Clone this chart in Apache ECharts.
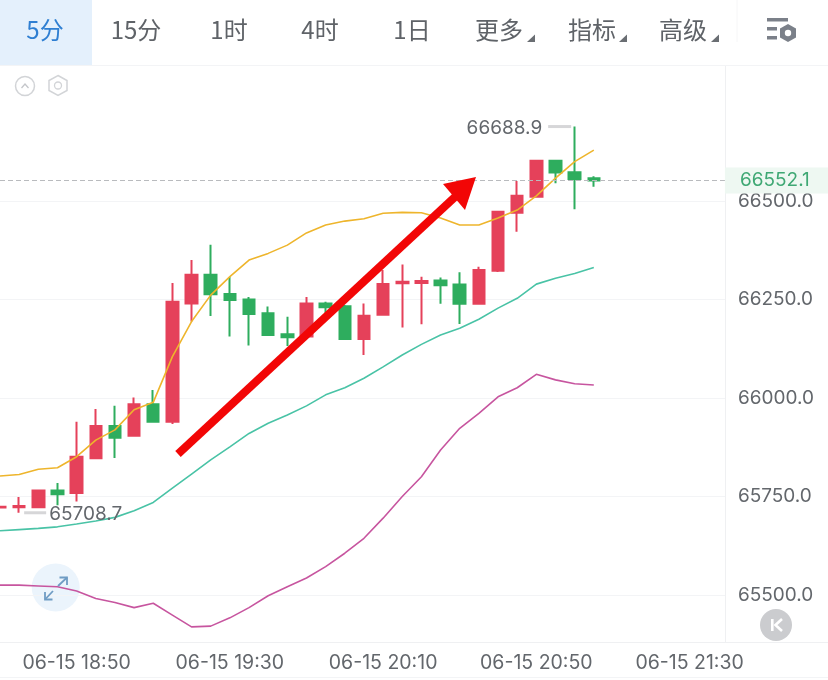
<!DOCTYPE html>
<html>
<head>
<meta charset="utf-8">
<style>
  html, body { margin: 0; padding: 0; background: #fff; }
  #chart { width: 828px; height: 680px; }
</style>
<script src="https://cdn.jsdelivr.net/npm/echarts@6/dist/echarts.min.js"></script>
</head>
<body>
<div id="chart"></div>
<script>
// Five-minute bars, 18:30 onward, with room on the right for upcoming sessions
const categories = [
  '06-15 18:30','06-15 18:35','06-15 18:40','06-15 18:45','06-15 18:50','06-15 18:55','06-15 19:00','06-15 19:05',
  '06-15 19:10','06-15 19:15','06-15 19:20','06-15 19:25','06-15 19:30','06-15 19:35','06-15 19:40','06-15 19:45',
  '06-15 19:50','06-15 19:55','06-15 20:00','06-15 20:05','06-15 20:10','06-15 20:15','06-15 20:20','06-15 20:25',
  '06-15 20:30','06-15 20:35','06-15 20:40','06-15 20:45','06-15 20:50','06-15 20:55','06-15 21:00','06-15 21:05',
  '06-15 21:10','06-15 21:15','06-15 21:20','06-15 21:25','06-15 21:30','06-15 21:35','06-15 21:40'
];

const opens  = [65722,65723,65723,65765,65759,65847,65929,65904,65984,65940,66240,66313,66264,66250,66215,66162,66156,66240,66233,66150,66211,66291,66292,66298,66288,66239,66323,66470,66511,66602,66573,66558];
const closes = [65724,65726,65765,65756,65851,65929,65899,65984,65940,66244,66313,66263,66249,66213,66160,66154,66240,66230,66150,66209,66289,66295,66297,66286,66239,66325,66473,66513,66602,66572,66556,66552.1];
const lows   = [65721,65708.7,65721,65728,65737,65845,65848,65902,65939,65934,66194,66208,66156,66133,66158,66132,66155,66198,66148,66109,66209,66179,66187,66239,66188,66237,66320,66422,66510,66545,66479,66536];
const highs  = [65725,65749,65766,65784,65940,65972,65980,66001,66020,66292,66350,66389,66307,66256,66232,66206,66256,66244,66236,66240,66325,66339,66308,66306,66319,66333,66474,66551,66603,66604,66688.9,66563];

const maYellow = [65802,65806,65819,65823,65851,65893,65919,65970,65989,66105,66194,66261,66308,66350,66367,66388,66419,66439,66449,66455,66469,66471,66470,66457,66439,66439,66457,66477,66513,66558,66600,66629];
const maTeal   = [65663,65666,65669,65673,65680,65688,65697,65714,65735,65771,65807,65843,65876,65910,65936,65957,65980,66008,66026,66050,66079,66109,66136,66160,66177,66200,66228,66253,66289,66304,66316,66331];
const maPurple = [65525,65525,65523,65521,65510,65491,65481,65468,65479,65449,65419,65421,65442,65468,65498,65521,65543,65572,65606,65644,65695,65750,65800,65868,65923,65961,66003,66026,66060,66046,66036,66033];

const priceTicks = [65500, 65750, 66000, 66250, 66500];
const lastPrice = 66552.1;
const highPoint = { category: '06-15 21:00', value: 66688.9 };
const lowPoint = { category: '06-15 18:35', value: 65708.7 };

const tabs = ['5分', '15分', '1时', '4时', '1日', '更多', '指标', '高级'];
const tabCenters = [45, 136, 229, 320, 412, 499, 592, 683];
const menuCarets = [527, 619, 711];

const UP = '#e5415a', DOWN = '#2ead5e', TEXT = '#63676c', RULE = '#f3f4f6';
const FONT = 'Inter, Roboto, sans-serif';
const CJK = '"Noto Sans CJK SC", sans-serif';

const candles = opens.map((o, i) => [o, closes[i], lows[i], highs[i]]);

// Toolbar, icons and the hand-drawn trend arrow sit around and above the plot
const chrome = [
  { type: 'rect', z: 0, shape: { x: 0, y: 0, width: 92, height: 65 }, style: { fill: '#e4f0fc' } },
  { type: 'line', z: 1, shape: { x1: 0, y1: 65.5, x2: 828, y2: 65.5 }, style: { stroke: RULE, lineWidth: 1 } },
  { type: 'line', z: 1, shape: { x1: 0, y1: 642.5, x2: 828, y2: 642.5 }, style: { stroke: '#eff0f2', lineWidth: 1 } },
  { type: 'line', z: 1, shape: { x1: 0, y1: 677.5, x2: 828, y2: 677.5 }, style: { stroke: RULE, lineWidth: 1 } },
  { type: 'rect', z: 1, shape: { x: 725, y: 66, width: 5, height: 576 }, style: { fill: '#fff' } },
  { type: 'line', z: 1, shape: { x1: 725.5, y1: 66, x2: 725.5, y2: 642 }, style: { stroke: '#eff0f2', lineWidth: 1 } },
  { type: 'line', z: 1, shape: { x1: 737, y1: 0, x2: 737, y2: 42 }, style: { stroke: '#f6f6f7', lineWidth: 1 } },

  // chart-type and settings glyphs under the toolbar
  { type: 'circle', z: 1, shape: { cx: 25, cy: 86, r: 9.5 }, style: { fill: 'none', stroke: '#d2d4d7', lineWidth: 1.5 } },
  { type: 'polyline', z: 1, shape: { points: [[21.5, 88], [25, 84], [28.5, 88]] }, style: { fill: 'none', stroke: '#c4c6ca', lineWidth: 1.3 } },
  { type: 'polygon', z: 1, shape: { points: [[58, 75.5], [67, 80.5], [67, 90.5], [58, 95.5], [49, 90.5], [49, 80.5]] }, style: { fill: 'none', stroke: '#d2d4d7', lineWidth: 1.5 } },
  { type: 'circle', z: 1, shape: { cx: 58, cy: 85.5, r: 3.5 }, style: { fill: 'none', stroke: '#d2d4d7', lineWidth: 1.3 } },

  // toolbar settings icon
  { type: 'rect', z: 1, shape: { x: 767, y: 18, width: 21, height: 3.5 }, style: { fill: '#7b8089' } },
  { type: 'rect', z: 1, shape: { x: 767, y: 27, width: 10, height: 3.5 }, style: { fill: '#7b8089' } },
  { type: 'rect', z: 1, shape: { x: 767, y: 36, width: 10, height: 3.5 }, style: { fill: '#7b8089' } },
  { type: 'polygon', z: 1, shape: { points: [[788, 24], [796, 28.5], [796, 37.5], [788, 42], [780, 37.5], [780, 28.5]] }, style: { fill: '#7b8089' } },
  { type: 'circle', z: 1, shape: { cx: 788, cy: 33, r: 3.2 }, style: { fill: '#fff' } },

  // round expand button, behind the lines
  { type: 'circle', z: 0, shape: { cx: 55.7, cy: 587.5, r: 24 }, style: { fill: '#ebf4fc' } },
  { type: 'polyline', z: 20, shape: { points: [[58, 586], [67, 577.5]] }, style: { fill: 'none', stroke: '#6f9cc4', lineWidth: 1.8 } },
  { type: 'polyline', z: 20, shape: { points: [[59.5, 577.5], [67, 577.5], [67, 585]] }, style: { fill: 'none', stroke: '#6f9cc4', lineWidth: 1.8 } },
  { type: 'polyline', z: 20, shape: { points: [[53, 591], [45, 599.5]] }, style: { fill: 'none', stroke: '#6f9cc4', lineWidth: 1.8 } },
  { type: 'polyline', z: 20, shape: { points: [[45, 592], [45, 599.5], [52.5, 599.5]] }, style: { fill: 'none', stroke: '#6f9cc4', lineWidth: 1.8 } },

  // back-to-latest button
  { type: 'circle', z: 20, shape: { cx: 776, cy: 625, r: 16 }, style: { fill: '#cbcccf' } },
  { type: 'rect', z: 21, shape: { x: 771, y: 619, width: 2.6, height: 12 }, style: { fill: '#fff' } },
  { type: 'polyline', z: 21, shape: { points: [[782, 619], [775.5, 625], [782, 631]] }, style: { fill: 'none', stroke: '#fff', lineWidth: 2.6 } },

  // trend arrow
  { type: 'line', z: 30, shape: { x1: 178, y1: 454, x2: 456, y2: 196 }, style: { stroke: '#f20606', lineWidth: 8 } },
  { type: 'polygon', z: 30, shape: { points: [[476, 177], [443, 184], [465, 210]] }, style: { fill: '#f20606' } }
];

tabs.forEach((label, i) => {
  chrome.push({
    type: 'text', z: 2,
    style: {
      x: tabCenters[i], y: 30, text: label, align: 'center', verticalAlign: 'middle',
      font: '24px ' + CJK, fill: i === 0 ? '#2f7fd2' : '#5f6368'
    }
  });
});
menuCarets.forEach(x => {
  chrome.push({
    type: 'polygon', z: 2,
    shape: { points: [[x, 42], [x + 8, 42], [x + 8, 34.5]] },
    style: { fill: '#6a6e73' }
  });
});

const extremeLabel = { show: true, color: TEXT, fontFamily: FONT, fontSize: 19 };

const chart = echarts.init(document.getElementById('chart'), null, { renderer: 'canvas' });
chart.setOption({
  animation: false,
  backgroundColor: '#fff',
  grid: { left: -1.7, top: 66, width: 729.6, height: 576, containLabel: false },
  xAxis: {
    type: 'category',
    data: categories,
    boundaryGap: false,
    axisLine: { show: false },
    axisTick: { show: false },
    splitLine: { show: false },
    axisLabel: {
      margin: 11,
      color: TEXT,
      fontFamily: FONT,
      fontSize: 19.5,
      // a label every 40 minutes, starting at 18:50
      interval: i => i >= 4 && (i - 4) % 8 === 0
    }
  },
  yAxis: {
    type: 'value',
    position: 'right',
    min: 65380.7,
    max: 66842.6,
    axisLine: { show: false },
    axisTick: { show: false, customValues: priceTicks },
    splitLine: { show: true, lineStyle: { color: RULE, width: 1 } },
    axisLabel: {
      customValues: priceTicks,
      margin: 10,
      color: TEXT,
      fontFamily: FONT,
      fontSize: 19,
      padding: [5, 0, 0, 0],
      formatter: v => v.toFixed(1)
    }
  },
  graphic: { elements: chrome },
  series: [
    {
      type: 'candlestick',
      name: 'K',
      z: 3,
      barWidth: 12,
      data: candles,
      itemStyle: { color: UP, borderColor: UP, color0: DOWN, borderColor0: DOWN, borderWidth: 2 },
      markLine: {
        silent: true,
        symbol: 'none',
        animation: false,
        lineStyle: { color: '#b9bbbe', type: [5, 3], width: 1 },
        label: {
          show: true,
          position: 'end',
          distance: -3,
          formatter: lastPrice.toFixed(1),
          color: '#3fa874',
          fontFamily: FONT,
          fontSize: 19,
          backgroundColor: '#eef8f2',
          padding: [4, 20, 3, 15]
        },
        data: [{ yAxis: lastPrice }]
      },
      markPoint: {
        silent: true,
        animation: false,
        symbol: 'rect',
        itemStyle: { color: '#d6d6d8' },
        data: [
          {
            coord: [highPoint.category, highPoint.value], value: highPoint.value,
            symbolSize: [23, 3], symbolOffset: [-15, 0],
            label: { ...extremeLabel, position: 'left', distance: 6, offset: [0, 1.5], formatter: highPoint.value.toFixed(1) }
          },
          {
            coord: [lowPoint.category, lowPoint.value], value: lowPoint.value,
            symbolSize: [22, 3], symbolOffset: [16, 0],
            label: { ...extremeLabel, position: 'right', distance: 3, offset: [0, 1.5], formatter: lowPoint.value.toFixed(1) }
          }
        ]
      }
    },
    { type: 'line', name: 'MA1', z: 4, data: maYellow, showSymbol: false, symbol: 'none', lineStyle: { color: '#eeb52c', width: 1.6 } },
    { type: 'line', name: 'MA2', z: 4, data: maTeal, showSymbol: false, symbol: 'none', lineStyle: { color: '#49c3a6', width: 1.6 } },
    { type: 'line', name: 'MA3', z: 4, data: maPurple, showSymbol: false, symbol: 'none', lineStyle: { color: '#c7559f', width: 1.6 } }
  ]
});
</script>
</body>
</html>
